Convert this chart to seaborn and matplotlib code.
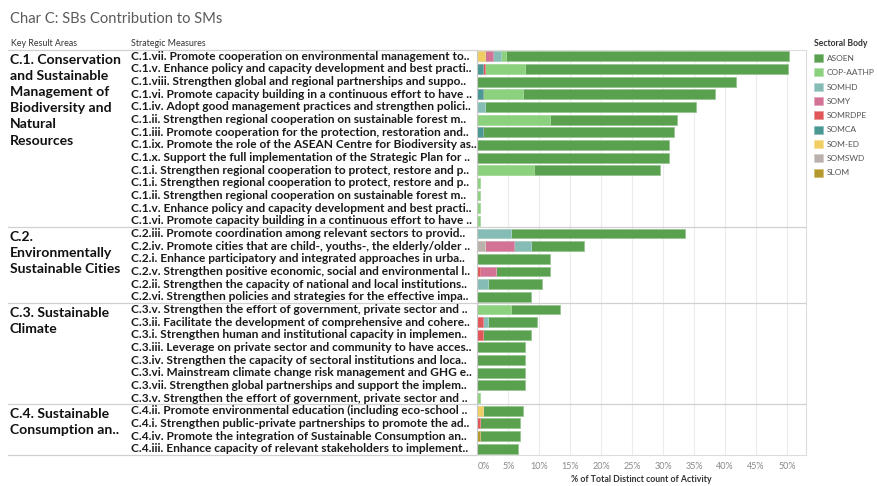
import matplotlib
matplotlib.use("Agg")
import matplotlib.pyplot as plt
import seaborn as sns
import pandas as pd
import numpy as np
from matplotlib.patches import Patch
from matplotlib.transforms import blended_transform_factory
from matplotlib.colors import to_rgb

# ---------------- data ----------------
title = "Char C: SBs Contribution to SMs"

measures = [
    "C.1.vii. Promote cooperation on environmental management to..",
    "C.1.v. Enhance policy and capacity development and best practi..",
    "C.1.viii. Strengthen global and regional partnerships and suppo..",
    "C.1.vi. Promote capacity building in a continuous effort to have ..",
    "C.1.iv. Adopt good management practices and strengthen polici..",
    "C.1.ii. Strengthen regional cooperation on sustainable forest m..",
    "C.1.iii. Promote cooperation for the protection, restoration and..",
    "C.1.ix. Promote the role of the ASEAN Centre for Biodiversity as..",
    "C.1.x. Support the full implementation of the Strategic Plan for ..",
    "C.1.i. Strengthen regional cooperation to protect, restore and p..",
    "C.1.i. Strengthen regional cooperation to protect, restore and p..",
    "C.1.ii. Strengthen regional cooperation on sustainable forest m..",
    "C.1.v. Enhance policy and capacity development and best practi..",
    "C.1.vi. Promote capacity building in a continuous effort to have ..",
    "C.2.iii. Promote coordination among relevant sectors to provid..",
    "C.2.iv. Promote cities that are child-, youths-, the elderly/older ..",
    "C.2.i. Enhance participatory and integrated approaches in urba..",
    "C.2.v. Strengthen positive economic, social and environmental l..",
    "C.2.ii. Strengthen the capacity of national and local institutions..",
    "C.2.vi. Strengthen policies and strategies for the effective impa..",
    "C.3.v. Strengthen the effort of government, private sector and ..",
    "C.3.ii. Facilitate the development of comprehensive and cohere..",
    "C.3.i. Strengthen human and institutional capacity in implemen..",
    "C.3.iii. Leverage on private sector and community to have acces..",
    "C.3.iv. Strengthen the capacity of sectoral institutions and loca..",
    "C.3.vi. Mainstream climate change risk management and GHG e..",
    "C.3.vii. Strengthen global partnerships and support the implem..",
    "C.3.v. Strengthen the effort of government, private sector and ..",
    "C.4.ii. Promote environmental education (including eco-school ..",
    "C.4.i. Strengthen public-private partnerships to promote the ad..",
    "C.4.iv. Promote the integration of Sustainable Consumption an..",
    "C.4.iii. Enhance capacity of relevant stakeholders to implement..",
]

kra_labels = [
    "C.1. Conservation\nand Sustainable\nManagement of\nBiodiversity and\nNatural\nResources",
    "C.2.\nEnvironmentally\nSustainable Cities",
    "C.3. Sustainable\nClimate",
    "C.4. Sustainable\nConsumption an..",
]
kra_sizes = [14, 6, 8, 4]

# series (% of total distinct count of activity)
asoen = [45.8, 42.5, 41.8, 31.0, 34.1, 20.4, 30.9, 30.9, 30.9, 20.4, 0, 0, 0, 0,
         28.0, 8.7, 11.7, 8.7, 8.7, 8.7,
         7.9, 7.9, 7.8, 7.7, 7.7, 7.7, 7.7, 0,
         6.5, 6.5, 6.5, 6.5]
cop_aathp = [0.8, 6.4, 0, 6.5, 0, 11.8, 0, 0, 0, 9.1, 0.4, 0.4, 0.4, 0.4,
             0, 0, 0, 0, 0, 0,
             5.5, 0, 0, 0, 0, 0, 0, 0.4,
             0, 0, 0, 0]
somhd = [1.3, 0, 0, 0, 1.2, 0, 0, 0, 0, 0, 0, 0, 0, 0,
         5.5, 2.6, 0, 0, 1.7, 0,
         0, 0.8, 0, 0, 0, 0, 0, 0,
         0, 0, 0, 0]
somy = [1.3, 0, 0, 0, 0, 0, 0, 0, 0, 0, 0, 0, 0, 0,
        0, 4.8, 0, 2.6, 0, 0,
        0, 0, 0, 0, 0, 0, 0, 0,
        0, 0, 0, 0]
somrdpe = [0, 0.4, 0, 0, 0, 0, 0, 0, 0, 0, 0, 0, 0, 0,
           0, 0, 0, 0.4, 0, 0,
           0, 0.9, 0.9, 0, 0, 0, 0, 0,
           0, 0.4, 0, 0]
somca = [0, 0.9, 0, 0.9, 0, 0, 0.9, 0, 0, 0, 0, 0, 0, 0,
         0, 0, 0, 0, 0, 0,
         0, 0, 0, 0, 0, 0, 0, 0,
         0, 0, 0, 0]
som_ed = [1.2, 0, 0, 0, 0, 0, 0, 0, 0, 0, 0, 0, 0, 0,
          0, 0, 0, 0, 0, 0,
          0, 0, 0, 0, 0, 0, 0, 0,
          0.9, 0, 0, 0]
somswd = [0, 0, 0, 0, 0, 0, 0, 0, 0, 0, 0, 0, 0, 0,
          0, 1.2, 0, 0, 0, 0,
          0, 0, 0, 0, 0, 0, 0, 0,
          0, 0, 0, 0]
slom = [0, 0, 0, 0, 0, 0, 0, 0, 0, 0, 0, 0, 0, 0,
        0, 0, 0, 0, 0, 0,
        0, 0, 0, 0, 0, 0, 0, 0,
        0, 0, 0.4, 0]

legend_names = ["ASOEN", "COP-AATHP", "SOMHD", "SOMY", "SOMRDPE", "SOMCA", "SOM-ED", "SOMSWD", "SLOM"]
series_values = [asoen, cop_aathp, somhd, somy, somrdpe, somca, som_ed, somswd, slom]
colors = ["#59A14F", "#8CD17D", "#86BCB6", "#D37295", "#E15759", "#499894", "#F1CE63", "#BAB0AC", "#B6992D"]

xticks = [0, 5, 10, 15, 20, 25, 30, 35, 40, 45, 50]
xlabel = "% of Total Distinct count of Activity"

# ---------------- figure ----------------
sns.set_theme(style="white")
plt.rcParams["font.family"] = ["Lato", "DejaVu Sans"]

W, H = 877, 486
fig = plt.figure(figsize=(W / 100, H / 100), dpi=100)
ax_l, ax_r, ax_t, ax_b = 477, 806, 50, 455
ax = fig.add_axes([ax_l / W, 1 - ax_b / H, (ax_r - ax_l) / W, (ax_b - ax_t) / H])

row_ids = [f"r{i:02d}" for i in range(len(measures))]
df = pd.DataFrame({"row": row_ids})
# stacking order from left: reverse of legend order
stack_order = list(range(len(legend_names)))[::-1]
cum = np.zeros(len(measures))
cums = {}
for k in stack_order:
    cum = cum + np.array(series_values[k])
    cums[k] = cum.copy()


def lighten(c, f=0.35):
    r, g, b = to_rgb(c)
    return (r + (1 - r) * f, g + (1 - g) * f, b + (1 - b) * f)


# draw longest cumulative first (ASOEN = total), then shorter on top
for k in stack_order[::-1]:
    df[legend_names[k]] = cums[k]
    sns.barplot(data=df, x=legend_names[k], y="row", order=row_ids, orient="h",
                color=colors[k], saturation=1, width=0.78, errorbar=None,
                edgecolor=lighten(colors[k]), linewidth=0.5, ax=ax)

ax.set_ylim(len(measures) - 0.5, -0.5)
ax.set_xlim(-0.05, (ax_r - ax_l) / 6.2)
ax.set_xticks(xticks)
ax.set_xticklabels([f"{t}%" for t in xticks], color="#8a8a8a", fontsize=6.5)
ax.get_xticklabels()[0].set_ha("left")
ax.tick_params(axis="x", length=0, pad=5)
ax.set_yticks([])
ax.set_ylabel("")
ax.set_xlabel(xlabel, fontsize=6.3, color="#333333", fontweight="bold", labelpad=3)
ax.grid(axis="x", color="#ececec", lw=0.8)
ax.set_axisbelow(True)
for s in ["top", "right", "bottom"]:
    ax.spines[s].set_color("#dcdcdc")
    ax.spines[s].set_linewidth(0.8)
ax.spines["left"].set_color("#c8c8c8")
ax.spines["left"].set_linewidth(0.8)

# labels of strategic measures
tr = blended_transform_factory(fig.transFigure, ax.transData)
for i, lab in enumerate(measures):
    ax.text(131 / W, i, lab, transform=tr, ha="left", va="center",
            fontsize=8.6, fontweight="bold", color="#1a1a1a")

# group separators and key result area labels
start = 0
bounds = [-0.5]
for lab, n in zip(kra_labels, kra_sizes):
    ax.text(10 / W, start - 0.5 + 0.28, lab, transform=tr, ha="left", va="top",
            fontsize=10.1, fontweight="bold", color="#111111", linespacing=1.42)
    start += n
    bounds.append(start - 0.5)
for b in bounds:
    ax.plot([8 / W, ax_l / W], [b, b], transform=tr, color="#d0d0d0", lw=0.9,
            clip_on=False)
for b in bounds[1:-1]:
    ax.axhline(b, color="#d0d0d0", lw=0.9)

# title and headers
fig.text(10 / W, 1 - 19 / H, title, ha="left", va="center", fontsize=10.6,
         color="#5a5a5a")
fig.text(11 / W, 1 - 44 / H, "Key Result Areas", ha="left", va="center",
         fontsize=6.4, color="#333333")
fig.text(131 / W, 1 - 44 / H, "Strategic Measures", ha="left", va="center",
         fontsize=6.4, color="#333333")

# legend
handles = [Patch(facecolor=c, edgecolor=lighten(c), lw=0.5) for c in colors]
leg = fig.legend(handles, legend_names, loc="upper left",
                 bbox_to_anchor=(812 / W, 1 - 37 / H), frameon=False,
                 title="Sectoral Body", fontsize=6, title_fontsize=6.2,
                 handlelength=1.1, handleheight=1.1, handletextpad=0.5,
                 labelspacing=0.76, alignment="left", borderaxespad=0,
                 borderpad=0.2)
leg.get_title().set_fontweight("bold")
leg.get_title().set_color("#333333")
for t in leg.get_texts():
    t.set_color("#555555")

fig.savefig("out.png", dpi=100)
